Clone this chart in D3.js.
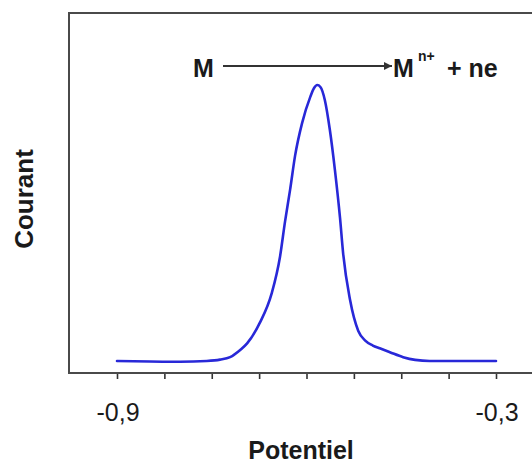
<!DOCTYPE html>
<html>
<head>
<meta charset="utf-8">
<script src="https://cdn.jsdelivr.net/npm/d3@7"></script>
<style>
  html, body { margin: 0; padding: 0; background: #fff; }
  svg { display: block; }
  text { font-family: "Liberation Sans", Arial, sans-serif; fill: #1a1a1a; }
</style>
</head>
<body>
<svg id="chart" width="532" height="463"></svg>
<script>
// Data (potential in V, current in arbitrary units, peak = 100)
const potential = [-0.900, -0.848, -0.800, -0.758, -0.737, -0.721, -0.705, -0.694, -0.674, -0.655,
  -0.642, -0.634, -0.626, -0.618, -0.607, -0.594, -0.588, -0.583, -0.578, -0.571,
  -0.563, -0.555, -0.547, -0.542, -0.531, -0.518, -0.507, -0.495, -0.484, -0.468,
  -0.447, -0.428, -0.405, -0.357, -0.300];
const current = [0, -0.2, -0.3, 0, 0.5, 1.4, 4.0, 6.4, 13.8, 24.6,
  37.7, 50.5, 62.0, 74.5, 86.2, 95.7, 98.9, 100, 99.3, 94.6,
  83.7, 69.2, 52.0, 39.0, 22.1, 10.9, 7.4, 5.6, 4.6, 3.2,
  1.4, 0.4, 0, 0, 0];
const xTicks = [-0.9, -0.825, -0.75, -0.675, -0.6, -0.525, -0.45, -0.375, -0.3];
const xTickLabels = ["-0,9", "-0,3"];
const xLabelValues = [-0.9, -0.3];

const svg = d3.select("#chart");
const mLeft = 69, mTop = 13, mBottom = 373, mRight = 560;

const x = d3.scaleLinear().domain([-0.9, -0.3]).range([117, 496]);
const y = d3.scaleLinear().domain([-4.35, 126.1]).range([mBottom, mTop]);

// frame (top + left + right borders)
svg.append("path")
  .attr("d", `M${mLeft},${mBottom} V${mTop} H${mRight} V${mBottom}`)
  .attr("fill", "none").attr("stroke", "#4a4a4a").attr("stroke-width", 2);

// bottom axis
const xAxis = d3.axisBottom(x).tickValues(xTicks).tickSize(6).tickFormat("");
const gx = svg.append("g").attr("transform", `translate(0,${mBottom})`).call(xAxis);
gx.select(".domain").remove();
gx.selectAll(".tick line").attr("stroke", "#333").attr("stroke-width", 1.6);
svg.append("line").attr("x1", mLeft - 1).attr("x2", mRight).attr("y1", mBottom).attr("y2", mBottom)
  .attr("stroke", "#4a4a4a").attr("stroke-width", 2);

// tick labels
svg.selectAll(".tl").data(xLabelValues).enter().append("text")
  .attr("class", "tl")
  .attr("x", d => x(d) + 1)
  .attr("y", 421)
  .attr("text-anchor", "middle")
  .attr("font-size", 25)
  .text((d, i) => xTickLabels[i]);

// axis titles
svg.append("text").attr("x", 301).attr("y", 459).attr("text-anchor", "middle")
  .attr("font-size", 25).attr("font-weight", "bold").text("Potentiel");
svg.append("text").attr("transform", "translate(33,199) rotate(-90)")
  .attr("text-anchor", "middle").attr("font-size", 26).attr("font-weight", "bold").text("Courant");

// curve
const line = d3.line().x(d => x(d[0])).y(d => y(d[1])).curve(d3.curveMonotoneX);
svg.append("path")
  .datum(potential.map((p, i) => [p, current[i]]))
  .attr("d", line)
  .attr("fill", "none").attr("stroke", "#2828d8").attr("stroke-width", 2.6)
  .attr("stroke-linejoin", "round").attr("stroke-linecap", "round");

// reaction annotation
svg.append("defs").append("marker").attr("id", "arr")
  .attr("viewBox", "0 0 10 10").attr("refX", 10).attr("refY", 5)
  .attr("markerWidth", 5).attr("markerHeight", 4).attr("markerUnits", "strokeWidth")
  .attr("orient", "auto")
  .append("path").attr("d", "M0,0 L10,5 L0,10 z").attr("fill", "#333");
svg.append("line").attr("x1", 223).attr("x2", 392).attr("y1", 66).attr("y2", 66)
  .attr("stroke", "#333").attr("stroke-width", 2).attr("marker-end", "url(#arr)");
svg.append("text").attr("x", 193).attr("y", 77).attr("font-size", 25).attr("font-weight", "bold").text("M");
svg.append("text").attr("x", 393).attr("y", 77).attr("font-size", 25).attr("font-weight", "bold").text("M");
svg.append("text").attr("x", 418).attr("y", 61).attr("font-size", 14).attr("font-weight", "bold").text("n+");
svg.append("text").attr("x", 447).attr("y", 77).attr("font-size", 25).attr("font-weight", "bold").text("+ ne");
</script>
</body>
</html>
